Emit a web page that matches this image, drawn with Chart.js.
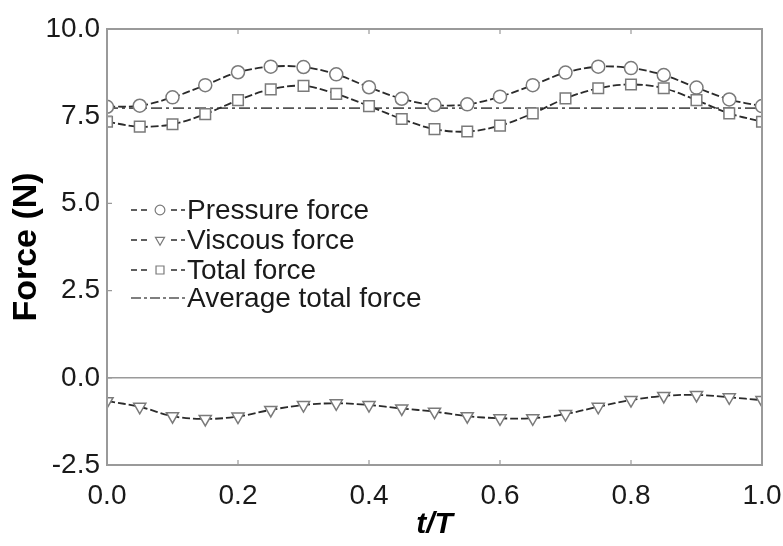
<!DOCTYPE html>
<html><head><meta charset="utf-8">
<script src="https://cdn.jsdelivr.net/npm/chart.js@4/dist/chart.umd.min.js"></script>
<style>html,body{margin:0;padding:0;background:#fff}#wrap{width:783px;height:546px}</style>
</head><body><div id="wrap"><canvas id="c" width="783" height="546"></canvas></div>
<script>
const tT = [0,0.05,0.1,0.15,0.2,0.25,0.3,0.35,0.4,0.45,0.5,0.55,0.6,0.65,0.7,0.75,0.8,0.85,0.9,0.95,1.0];
const pressureForce = [7.77,7.80,8.04,8.39,8.76,8.92,8.91,8.70,8.33,8.00,7.82,7.84,8.06,8.39,8.75,8.92,8.88,8.68,8.32,7.98,7.79];
const viscousForce = [-0.67,-0.83,-1.10,-1.18,-1.11,-0.92,-0.78,-0.73,-0.78,-0.88,-0.97,-1.10,-1.16,-1.16,-1.04,-0.83,-0.64,-0.52,-0.49,-0.56,-0.64];
const totalForce = [7.34,7.20,7.27,7.56,7.96,8.27,8.37,8.14,7.79,7.42,7.13,7.06,7.23,7.58,8.01,8.30,8.41,8.30,7.96,7.58,7.34];
const averageTotalForce = 7.73;
const averageX = [0, 1.0];
const xTicks = [0,0.2,0.4,0.6,0.8,1.0];
const yTicks = [-2.5,0,2.5,5.0,7.5,10.0];
const seriesNames = ['Pressure force','Viscous force','Total force','Average total force'];

const pts = (xs, ys) => xs.map((x,i)=>({x:x, y:ys[i]}));
const LINE = '#2b2b2b', MARK = '#7a7a7a', FRAME = '#9a9a9a';
const FONT = '"Liberation Sans", Arial, Helvetica, sans-serif';

function baseDs(label, data, style, radius, rot){
  return {label, data, borderColor: LINE, borderWidth: 1.8, borderDash: [8,3],
    pointStyle: style, pointRadius: radius, pointRotation: rot||0,
    pointBackgroundColor: '#fff', pointBorderColor: MARK, pointBorderWidth: 1.5,
    tension: 0.35, fill: false};
}

const datasets = [
  baseDs(seriesNames[0], pts(tT, pressureForce), 'circle', 6.5),
  baseDs(seriesNames[1], pts(tT, viscousForce), 'triangle', 7, 180),
  baseDs(seriesNames[2], pts(tT, totalForce), 'rect', 7.5),
  {label: seriesNames[3], data: pts(averageX, averageX.map(()=>averageTotalForce)),
   borderColor: '#555', borderWidth: 1.8, borderDash: [11,4,3,4], pointRadius: 0, fill:false, order: 5}
];

const framePlugin = {
  id: 'frame',
  beforeDatasetsDraw(chart){
    const {ctx, chartArea:a, scales} = chart;
    ctx.save();
    ctx.strokeStyle = FRAME; ctx.lineWidth = 1.5;
    const y0 = scales.y.getPixelForValue(0);
    ctx.beginPath(); ctx.moveTo(a.left, y0); ctx.lineTo(a.right, y0); ctx.stroke();
    ctx.restore();
  },
  afterDatasetsDraw(chart){
    const {ctx, chartArea:a, scales} = chart;
    ctx.save();
    ctx.strokeStyle = FRAME; ctx.lineWidth = 2;
    ctx.strokeRect(a.left, a.top, a.right-a.left, a.bottom-a.top);
    ctx.lineWidth = 1.2;
    ctx.beginPath();
    xTicks.forEach(v=>{ const px = scales.x.getPixelForValue(v);
      ctx.moveTo(px, a.bottom); ctx.lineTo(px, a.bottom-5);
      ctx.moveTo(px, a.top); ctx.lineTo(px, a.top+5); });
    yTicks.forEach(v=>{ const py = scales.y.getPixelForValue(v);
      ctx.moveTo(a.left, py); ctx.lineTo(a.left+5, py); });
    ctx.stroke();
    // legend
    const rows = [210, 240, 270, 298];
    chart.data.datasets.forEach((ds, i)=>{
      const y = rows[i];
      ctx.save();
      ctx.strokeStyle = ds.borderColor; ctx.lineWidth = 1.6;
      ctx.setLineDash(i===3 ? [10,3,3,3] : [6,4]);
      ctx.beginPath(); ctx.moveTo(131, y); ctx.lineTo(185, y); ctx.stroke();
      ctx.setLineDash([]);
      if (ds.pointRadius > 0) {
        const opts = {pointStyle: ds.pointStyle, radius: ds.pointRadius*0.75, rotation: ds.pointRotation||0, borderWidth: 1.2};
        ctx.fillStyle = '#fff'; ctx.strokeStyle = MARK; ctx.lineWidth = 1.2;
        ctx.fillRect(151, y-7, 18, 14);
        Chart.helpers.drawPoint(ctx, opts, 160, y);
      }
      ctx.restore();
      ctx.fillStyle = '#1a1a1a'; ctx.font = '28px ' + FONT;
      ctx.textBaseline = 'middle'; ctx.textAlign = 'left';
      ctx.fillText(ds.label, 187, y+1);
    });
    ctx.restore();
  }
};

new Chart(document.getElementById('c'), {
  type: 'line',
  data: {datasets},
  plugins: [framePlugin],
  options: {
    responsive: false, animation: false, devicePixelRatio: 1,
    layout: {padding: {top: 29, right: 21, left: 0, bottom: 0}},
    plugins: {legend: {display: false}, tooltip: {enabled: false}},
    scales: {
      x: {type: 'linear', min: 0, max: 1,
        afterBuildTicks: s => { s.ticks = xTicks.map(v=>({value:v})); },
        afterFit: s => { s.height = 81; s.paddingLeft = 0; s.paddingRight = 0; },
        grid: {display: false, drawTicks: false}, border: {display: false},
        ticks: {padding: 14, color: '#1a1a1a', font: {family: FONT, size: 28}, callback: v => Number(v).toFixed(1), maxRotation: 0},
        title: {display: true, text: 't/T', color: '#000', font: {family: FONT, size: 30, weight: 'bold', style: 'italic'}, padding: {top: 0, bottom: 3}}
      },
      y: {type: 'linear', min: -2.5, max: 10,
        afterBuildTicks: s => { s.ticks = yTicks.map(v=>({value:v})); },
        afterFit: s => { s.width = 107; s.paddingTop = 0; s.paddingBottom = 0; },
        grid: {display: false, drawTicks: false}, border: {display: false},
        ticks: {padding: 7, color: '#1a1a1a', font: {family: FONT, size: 28}, callback: v => Number(v).toFixed(1)},
        title: {display: true, text: 'Force (N)', color: '#000', font: {family: FONT, size: 34, weight: 'bold'}, padding: {top: 6, bottom: 0}}
      }
    }
  }
});
</script></body></html>
